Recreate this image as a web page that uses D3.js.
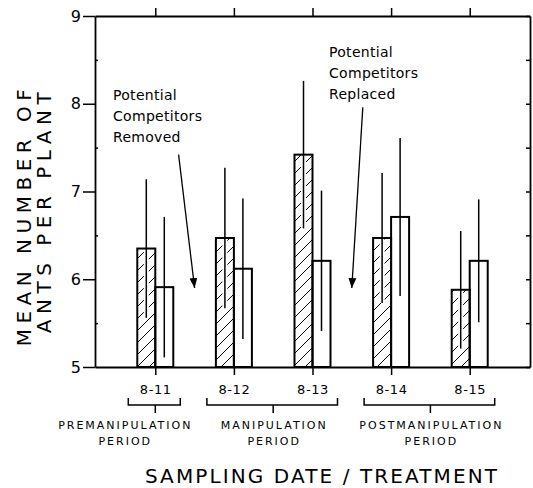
<!DOCTYPE html>
<html>
<head>
<meta charset="utf-8">
<script src="https://cdn.jsdelivr.net/npm/d3@7"></script>
<style>
  body { margin: 0; background: #fff; }
  text { font-family: "DejaVu Sans", sans-serif; fill: #000; }
</style>
</head>
<body>
<div id="chart"></div>
<script>
// sampling dates and the two bars per date (hatched / open)
const dates = ['8-11', '8-12', '8-13', '8-14', '8-15'];
const hatchedMean = [6.35, 6.47, 7.42, 6.47, 5.88];
const hatchedSd = [0.79, 0.80, 0.84, 0.74, 0.67];
const openMean = [5.91, 6.12, 6.21, 6.71, 6.21];
const openSd = [0.80, 0.80, 0.80, 0.90, 0.70];
const yTicks = [5, 6, 7, 8, 9];
const periods = [
  {lines: ['PREMANIPULATION', 'PERIOD'], from: '8-11', to: '8-11'},
  {lines: ['MANIPULATION', 'PERIOD'], from: '8-12', to: '8-13'},
  {lines: ['POSTMANIPULATION', 'PERIOD'], from: '8-14', to: '8-15'}
];
const notes = [
  {lines: ['Potential', 'Competitors', 'Removed'], after: 0, from: 7.42, to: 5.9},
  {lines: ['Potential', 'Competitors', 'Replaced'], after: 2, from: 7.96, to: 5.9}
];

const W = 533, H = 488;
const mLeft = 95, mRight = 530, mTop = 16, mBottom = 367;

const svg = d3.select('#chart').append('svg').attr('width', W).attr('height', H);

const x = d3.scalePoint().domain(dates).range([mLeft, mRight]).padding(0.767);
const sub = d3.scaleBand().domain(['hatched', 'open']).range([-18, 18]);
const y = d3.scaleLinear().domain([5, 9]).range([mBottom, mTop]);

// hatching
svg.append('defs').append('pattern')
  .attr('id', 'hatch').attr('patternUnits', 'userSpaceOnUse')
  .attr('width', 12).attr('height', 12)
  .append('path')
  .attr('d', 'M-1,1 l2,-2 M0,12 l12,-12 M11,13 l2,-2')
  .attr('stroke', '#000').attr('stroke-width', 1);

const bars = [];
dates.forEach((d, i) => {
  bars.push({date: d, kind: 'hatched', mean: hatchedMean[i], sd: hatchedSd[i]});
  bars.push({date: d, kind: 'open', mean: openMean[i], sd: openSd[i]});
});

const bx = d => x(d.date) + sub(d.kind);

// bar fills
svg.append('g').selectAll('rect').data(bars).enter().append('rect')
  .attr('x', bx).attr('y', d => y(d.mean))
  .attr('width', sub.bandwidth()).attr('height', d => y(5) - y(d.mean))
  .attr('fill', d => d.kind === 'hatched' ? 'url(#hatch)' : '#fff');

// error bars with a white halo that breaks the hatching
const err = svg.append('g');
err.selectAll('line.halo').data(bars).enter().append('line')
  .attr('class', 'halo')
  .attr('x1', d => bx(d) + sub.bandwidth() / 2).attr('x2', d => bx(d) + sub.bandwidth() / 2)
  .attr('y1', d => y(d.mean + d.sd)).attr('y2', d => y(d.mean - d.sd))
  .attr('stroke', '#fff').attr('stroke-width', 5);
err.selectAll('line.bar').data(bars).enter().append('line')
  .attr('class', 'bar')
  .attr('x1', d => bx(d) + sub.bandwidth() / 2).attr('x2', d => bx(d) + sub.bandwidth() / 2)
  .attr('y1', d => y(d.mean + d.sd)).attr('y2', d => y(d.mean - d.sd))
  .attr('stroke', '#000').attr('stroke-width', 1.5);

// bar outlines
svg.append('g').selectAll('rect').data(bars).enter().append('rect')
  .attr('x', bx).attr('y', d => y(d.mean))
  .attr('width', sub.bandwidth()).attr('height', d => y(5) - y(d.mean))
  .attr('fill', 'none').attr('stroke', '#000').attr('stroke-width', 2);

// axes
const axisStyle = g => {
  g.select('.domain').attr('stroke', '#000').attr('stroke-width', 1.8);
  g.selectAll('.tick line').attr('stroke', '#000').attr('stroke-width', 1.5);
};

svg.append('g').attr('transform', `translate(${mLeft},0)`)
  .call(d3.axisLeft(y).tickValues(yTicks).tickFormat(d3.format('d'))
    .tickSize(12).tickPadding(2).tickSizeOuter(0))
  .call(axisStyle)
  .call(g => g.selectAll('.tick text').attr('font-size', 16)
    .style('font-family', '"DejaVu Sans", sans-serif'));
svg.append('g').attr('transform', `translate(${mLeft},0)`)
  .call(d3.axisRight(y).tickValues([5.5, 6.5, 7.5, 8.5]).tickSize(3).tickFormat(''))
  .call(axisStyle).call(g => g.select('.domain').remove());

svg.append('g').attr('transform', `translate(${mRight},0)`)
  .call(d3.axisLeft(y).tickValues(d3.range(5, 9.01, 0.5)).tickSize(4).tickSizeOuter(0).tickFormat(''))
  .call(axisStyle);

svg.append('g').attr('transform', `translate(0,${mBottom})`)
  .call(d3.axisBottom(x).tickSize(8).tickSizeOuter(0).tickPadding(10))
  .call(axisStyle)
  .call(g => g.selectAll('.tick text').attr('font-size', 13).attr('letter-spacing', 0.6)
    .style('font-family', '"DejaVu Sans", sans-serif'));

svg.append('g').attr('transform', `translate(0,${mTop})`)
  .call(d3.axisTop(x).tickSize(8).tickSizeOuter(0).tickFormat(''))
  .call(axisStyle);

// period brackets
const br = svg.append('g');
periods.forEach((p, i) => {
  const x0 = x(p.from) - 27, x1 = x(p.to) + 25;
  const mid = (x(p.from) + x(p.to)) / 2;
  br.append('path')
    .attr('d', `M${x0},398 V405 H${x1} V398 M${mid},405 V413`)
    .attr('fill', 'none').attr('stroke', '#000').attr('stroke-width', 1.5);
  const tx = i === 0 ? mid - 31 : mid;
  p.lines.forEach((l, j) => {
    br.append('text').attr('x', tx + 1).attr('y', 429 + j * 16)
      .attr('text-anchor', 'middle').attr('font-size', 11).attr('letter-spacing', 2)
      .text(l);
  });
});

// annotations with arrows
svg.append('defs').append('marker')
  .attr('id', 'head').attr('viewBox', '0 0 10 10')
  .attr('refX', 10).attr('refY', 5).attr('markerWidth', 10).attr('markerHeight', 10)
  .attr('markerUnits', 'userSpaceOnUse').attr('orient', 'auto')
  .append('path').attr('d', 'M0,1 L10,5 L0,9 Z').attr('fill', '#000');

const noteX = [113, 329];
const noteTop = [8.04, 8.53];
notes.forEach((n, i) => {
  const mid = (x(dates[n.after]) + x(dates[n.after + 1])) / 2;
  const dx = i === 0 ? -16 : 11;
  svg.append('line')
    .attr('x1', mid + dx).attr('y1', y(n.from))
    .attr('x2', mid).attr('y2', y(n.to))
    .attr('stroke', '#000').attr('stroke-width', 1.3)
    .attr('marker-end', 'url(#head)');
  n.lines.forEach((l, j) => {
    svg.append('text').attr('x', noteX[i]).attr('y', y(noteTop[i]) + j * 21)
      .attr('font-size', 14).attr('letter-spacing', 0.3).text(l);
  });
});

// axis titles
svg.append('text').attr('transform', 'translate(31,215) rotate(-90)')
  .attr('text-anchor', 'middle').attr('font-size', 20).attr('letter-spacing', 5.5)
  .text('MEAN NUMBER OF');
svg.append('text').attr('transform', 'translate(51,210) rotate(-90)')
  .attr('text-anchor', 'middle').attr('font-size', 20).attr('letter-spacing', 5.5)
  .text('ANTS PER PLANT');

svg.append('text').attr('x', 322).attr('y', 483)
  .attr('text-anchor', 'middle').attr('font-size', 20).attr('letter-spacing', 2.1)
  .text('SAMPLING DATE / TREATMENT');
</script>
</body>
</html>
